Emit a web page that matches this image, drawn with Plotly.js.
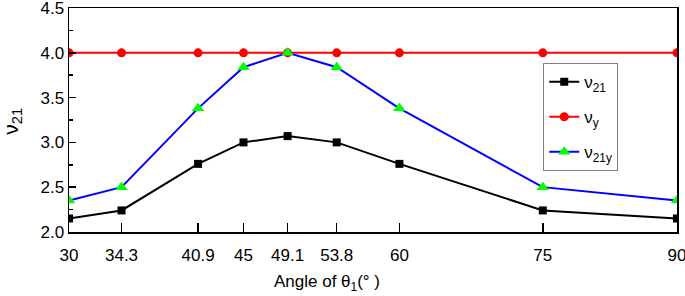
<!DOCTYPE html>
<html>
<head>
<meta charset="utf-8">
<script src="https://cdn.plot.ly/plotly-3.0.1.min.js"></script>
<style>html,body{margin:0;padding:0;background:#fff;}#chart{width:685px;height:296px;}</style>
</head>
<body>
<div id="chart"></div>
<script>
// ---- data ----
var angles = [30, 34.3, 40.9, 45, 49.1, 53.8, 60, 75, 90];
var tickLabels = ['30', '34.3', '40.9', '45', '49.1', '53.8', '60', '75', '90'];
var nu21  = [2.15, 2.24, 2.76, 3.00, 3.07, 3.00, 2.76, 2.24, 2.15];
var nuY   = [4.0, 4.0, 4.0, 4.0, 4.0, 4.0, 4.0, 4.0, 4.0];
var nu21y = [2.35, 2.50, 3.38, 3.84, 4.00, 3.84, 3.38, 2.50, 2.35];

// The reference x axis is not linear: it follows a power scale (angle^0.67).
// Plotly has no power axis, so the scale is applied here and labelled with the real angles.
var POWER = 0.67;
function xScale(a) { return Math.pow(a, POWER); }
var xs = angles.map(xScale);

var FONT = 'Liberation Sans, Arial, Helvetica, sans-serif';

var traces = [
  {x: xs, y: nu21, name: 'ν<sub>21</sub>', mode: 'lines+markers', legendgroup: 'g1',
   line: {color: '#000000', width: 2},
   marker: {symbol: 'square', size: 8, color: '#000000'}},
  {x: xs, y: nuY, name: 'ν<sub>y</sub>', mode: 'lines+markers', legendgroup: 'g2',
   line: {color: '#ff0000', width: 2},
   marker: {symbol: 'circle', size: 9, color: '#ff0000'}},
  {x: xs, y: nu21y, name: 'ν<sub>21y</sub>', mode: 'lines+markers', legendgroup: 'g3',
   line: {color: '#0000ff', width: 2},
   marker: {symbol: 'triangle-up', size: 11, color: '#00ff00'}}
];

var eps = 0.001;
var layout = {
  width: 685, height: 296,
  margin: {l: 69, r: 8, t: 8, b: 64},
  paper_bgcolor: '#ffffff', plot_bgcolor: '#ffffff',
  font: {family: FONT, size: 17, color: '#000'},
  showlegend: true,
  legend: {x: 0.78, y: 0.754, xanchor: 'left', yanchor: 'top',
           traceorder: 'grouped', tracegroupgap: 10,
           bgcolor: '#ffffff', bordercolor: '#808080', borderwidth: 1,
           font: {family: FONT, size: 17, color: '#000'}},
  xaxis: {range: [xScale(angles[0]) - eps, xScale(angles[angles.length - 1]) + eps],
          tickmode: 'array', tickvals: xs, ticktext: tickLabels,
          ticks: 'inside', ticklen: 9, tickwidth: 1.5, tickcolor: '#000',
          ticklabeloverflow: 'allow', ticklabelstandoff: 7,
          showline: true, linecolor: '#000', linewidth: 1.5, mirror: true,
          showgrid: false, zeroline: false,
          tickfont: {family: FONT, size: 17, color: '#000'}},
  yaxis: {range: [2 - eps, 4.5 + eps], dtick: 0.5, tick0: 2, tickformat: '.1f',
          ticks: 'inside', ticklen: 7, tickwidth: 1.5, tickcolor: '#000',
          ticklabeloverflow: 'allow',
          minor: {dtick: 0.25, ticks: 'inside', ticklen: 4, tickwidth: 1.5, tickcolor: '#000', showgrid: false},
          showline: true, linecolor: '#000', linewidth: 1.5, mirror: true,
          showgrid: false, zeroline: false,
          tickfont: {family: FONT, size: 17, color: '#000'}},
  annotations: [
    {text: 'Angle of θ<sub>1</sub>(° )', xref: 'paper', yref: 'paper',
     x: 0.424, y: -0.228, xanchor: 'center', yanchor: 'middle', showarrow: false,
     font: {family: FONT, size: 17, color: '#000'}},
    {text: 'ν<sub>21</sub>', xref: 'paper', yref: 'paper', textangle: -90,
     x: -0.094, y: 0.496, xanchor: 'center', yanchor: 'middle', showarrow: false,
     font: {family: FONT, size: 21, color: '#000'}}
  ]
};

Plotly.newPlot('chart', traces, layout, {displayModeBar: false, staticPlot: true});
</script>
</body>
</html>
